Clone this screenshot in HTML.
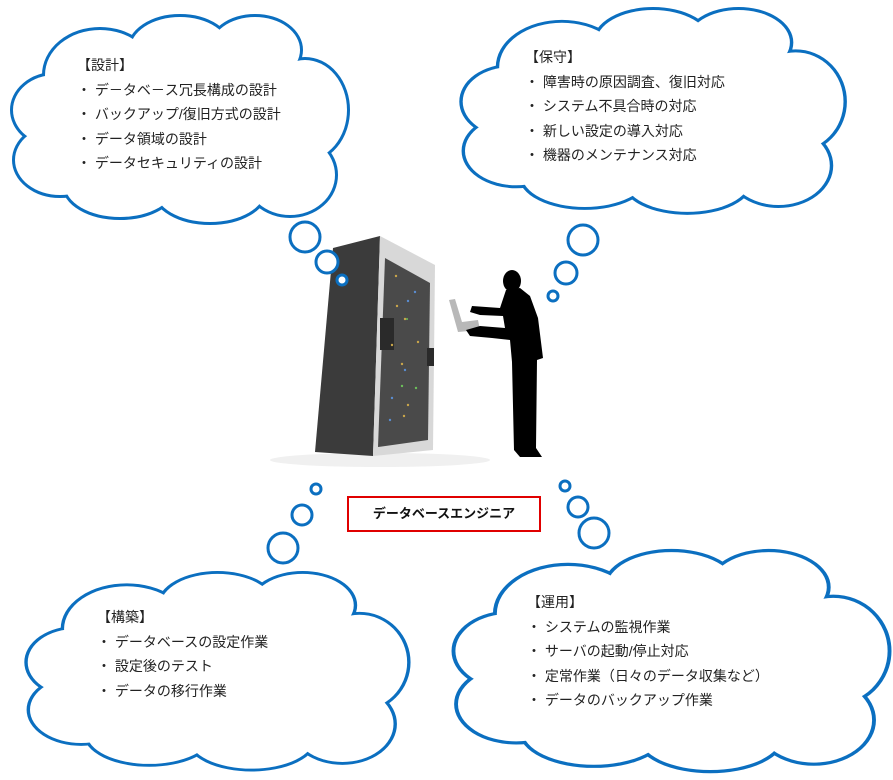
<!DOCTYPE html>
<html><head><meta charset="utf-8"><style>
html,body{margin:0;padding:0;background:#fff;}
body{width:893px;height:780px;position:relative;overflow:hidden;font-family:"Liberation Sans","Noto Sans CJK JP",sans-serif;}
.t{position:absolute;font-size:14px;color:#222;line-height:24.5px;white-space:nowrap;}
.lbl{position:absolute;left:347px;top:496px;width:190px;height:32px;border:2px solid #e00000;font-weight:bold;font-size:13px;text-align:center;line-height:32px;color:#111;}
</style></head><body>
<svg width="893" height="780" style="position:absolute;left:0;top:0">
<defs>
<g id="cl">
<ellipse cx="85" cy="60" rx="55" ry="45"/><ellipse cx="165" cy="35" rx="50" ry="33"/><ellipse cx="240" cy="35" rx="45" ry="33"/><ellipse cx="290" cy="95" rx="42" ry="50"/><ellipse cx="275" cy="160" rx="45" ry="40"/><ellipse cx="195" cy="175" rx="55" ry="32"/><ellipse cx="105" cy="170" rx="55" ry="32"/><ellipse cx="45" cy="145" rx="45" ry="35"/><ellipse cx="40" cy="95" rx="42" ry="35"/><ellipse cx="165" cy="105" rx="130" ry="70"/>
</g>
</defs>
<g fill="#fff" stroke="#0b6fc0" stroke-width="6">
<use href="#cl" transform="translate(15,15)"/>
<use href="#cl" transform="translate(465,8) scale(1.14,0.985)"/>
<use href="#cl" transform="translate(30,572) scale(1.136,0.95)"/>
<use href="#cl" transform="translate(458,550) scale(1.294,1.063)"/>
</g>
<g fill="#fff" stroke="none">
<use href="#cl" transform="translate(15,15)"/>
<use href="#cl" transform="translate(465,8) scale(1.14,0.985)"/>
<use href="#cl" transform="translate(30,572) scale(1.136,0.95)"/>
<use href="#cl" transform="translate(458,550) scale(1.294,1.063)"/>
</g>
<!-- server -->
<ellipse cx="380" cy="460" rx="110" ry="7" fill="#f0f0f0"/>
<polygon points="333,248 380,236 373,456 315,452" fill="#3b3b3b"/>
<polygon points="380,236 435,265 433,450 373,456" fill="#d8d8d8"/>
<polygon points="385,258 430,283 428,440 378,447" fill="#4a4a4a"/>
<rect x="380" y="318" width="14" height="32" fill="#2a2a2a"/>
<rect x="427" y="348" width="7" height="18" fill="#2a2a2a"/>
<g fill="#c9a64a"><circle cx="396" cy="276" r="1.2"/><circle cx="397" cy="306" r="1.2"/><circle cx="405" cy="319" r="1.2"/><circle cx="392" cy="345" r="1.2"/><circle cx="418" cy="342" r="1.2"/><circle cx="402" cy="364" r="1.2"/><circle cx="408" cy="405" r="1.2"/><circle cx="404" cy="416" r="1.2"/></g>
<g fill="#5a8cd0"><circle cx="415" cy="292" r="1.2"/><circle cx="408" cy="301" r="1.2"/><circle cx="405" cy="370" r="1.2"/><circle cx="392" cy="398" r="1.2"/><circle cx="390" cy="420" r="1.2"/></g>
<g fill="#6cbf5a"><circle cx="407" cy="319" r="1"/><circle cx="402" cy="386" r="1.2"/><circle cx="416" cy="388" r="1.2"/></g>
<!-- person -->
<polygon points="449,300 455,299 462,322 478,320 480,330 458,332" fill="#b8b8b8"/>
<ellipse cx="512" cy="281" rx="9" ry="11" fill="#000"/>
<path d="M506,290 L520,288 L530,296 L538,318 L543,358 L537,360 L536,448 L542,457 L520,457 L514,450 L512,362 L510,340 L492,338 L470,336 L466,330 L480,326 L505,328 L503,316 L480,315 L470,312 L472,306 L500,308 Z" fill="#000"/>
<g fill="#fff" stroke="#0b6fc0" stroke-width="3">
<circle cx="305" cy="237" r="15"/><circle cx="327" cy="262" r="11"/><circle cx="342" cy="280" r="5"/>
<circle cx="583" cy="240" r="15"/><circle cx="566" cy="273" r="11"/><circle cx="553" cy="296" r="5"/>
<circle cx="316" cy="489" r="5"/><circle cx="302" cy="515" r="10"/><circle cx="283" cy="548" r="15"/>
<circle cx="565" cy="486" r="5"/><circle cx="578" cy="507" r="10"/><circle cx="594" cy="533" r="15"/>
</g>
</svg>
<div class="t" style="left:77px;top:53px">【設計】<br>・ デ－タベ－ス冗長構成の設計<br>・ バックアップ/復旧方式の設計<br>・ データ領域の設計<br>・ データセキュリティの設計</div>
<div class="t" style="left:525px;top:45px">【保守】<br>・ 障害時の原因調査、復旧対応<br>・ システム不具合時の対応<br>・ 新しい設定の導入対応<br>・ 機器のメンテナンス対応</div>
<div class="t" style="left:97px;top:605px">【構築】<br>・ データベースの設定作業<br>・ 設定後のテスト<br>・ データの移行作業</div>
<div class="t" style="left:527px;top:590px">【運用】<br>・ システムの監視作業<br>・ サーバの起動/停止対応<br>・ 定常作業（日々のデータ収集など）<br>・ データのバックアップ作業</div>
<div class="lbl">データベースエンジニア</div>
</body></html>
